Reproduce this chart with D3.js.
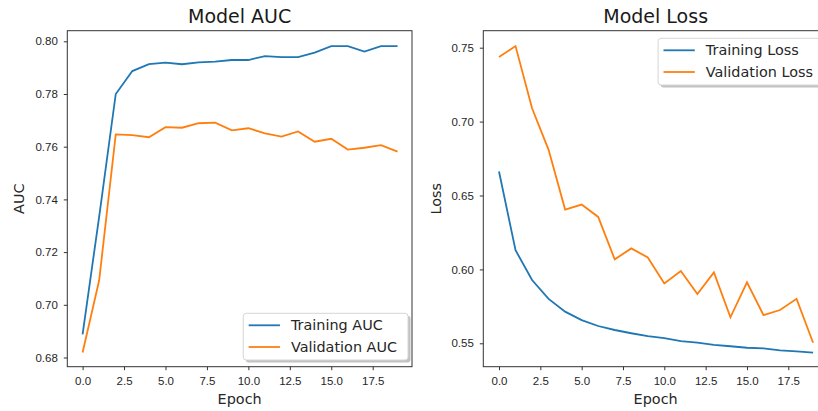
<!DOCTYPE html>
<html>
<head>
<meta charset="utf-8">
<script src="https://cdn.jsdelivr.net/npm/d3@7"></script>
<style>
  body { margin: 0; background: #fff; }
  svg { display: block; font-family: "DejaVu Sans", sans-serif; }
  .tick text { fill: #262626; font-size: 11.5px; }
  .tick line { stroke: #333; }
</style>
</head>
<body>
<svg id="chart" width="818" height="411"></svg>
<script>
var epochs = d3.range(20);

var trainAuc = [0.6888, 0.7335, 0.7800, 0.7887, 0.7913, 0.7919, 0.7913, 0.7920, 0.7923, 0.7929,
                0.7929, 0.7944, 0.7940, 0.7940, 0.7957, 0.7982, 0.7982, 0.7961, 0.7982, 0.7982];
var valAuc = [0.6819, 0.7093, 0.7647, 0.7644, 0.7636, 0.7674, 0.7672, 0.7689, 0.7691, 0.7662,
              0.7670, 0.7651, 0.7638, 0.7658, 0.7619, 0.7630, 0.7589, 0.7596, 0.7606, 0.7581];

var trainLoss = [0.6662, 0.6130, 0.5928, 0.5800, 0.5714, 0.5657, 0.5617, 0.5590, 0.5568, 0.5548,
                 0.5535, 0.5515, 0.5505, 0.5490, 0.5480, 0.5470, 0.5465, 0.5452, 0.5445, 0.5437];
var valLoss = [0.7437, 0.7511, 0.7090, 0.6809, 0.6405, 0.6439, 0.6355, 0.6068, 0.6142, 0.6081,
               0.5905, 0.5989, 0.5833, 0.5980, 0.5676, 0.5912, 0.5691, 0.5725, 0.5801, 0.5504];

var xTicks = [0, 2.5, 5, 7.5, 10, 12.5, 15, 17.5];
var aucTicks = [0.68, 0.70, 0.72, 0.74, 0.76, 0.78, 0.80];
var lossTicks = [0.55, 0.60, 0.65, 0.70, 0.75];

var blue = "#1f77b4";
var orange = "#ff7f0e";

var svg = d3.select("#chart");

function panel (opt) {
  var g = svg.append("g");
  var f = opt.frame;

  var x = d3.scaleLinear().domain([0, 17.5]).range(opt.xr);
  var y = d3.scaleLinear().domain(opt.yd).range(opt.yr);

  g.append("rect")
    .attr("x", f.x0).attr("y", f.y0)
    .attr("width", f.x1 - f.x0).attr("height", f.y1 - f.y0)
    .attr("fill", "none").attr("stroke", "#333").attr("stroke-width", 1);

  var xa = g.append("g")
    .attr("transform", "translate(0," + f.y1 + ")")
    .call(d3.axisBottom(x).tickValues(xTicks).tickSize(3.5).tickPadding(4).tickFormat(d3.format(".1f")));
  xa.select(".domain").remove();
  xa.selectAll("text").attr("dy", "0.9em");

  var ya = g.append("g")
    .attr("transform", "translate(" + f.x0 + ",0)")
    .call(d3.axisLeft(y).tickValues(opt.yTicks).tickSize(3.5).tickPadding(6).tickFormat(d3.format(".2f")));
  ya.select(".domain").remove();

  var line = d3.line().x(function (d, i) { return x(epochs[i]); }).y(function (d) { return y(d); });

  g.append("path").datum(opt.train).attr("d", line)
    .attr("fill", "none").attr("stroke", blue).attr("stroke-width", 1.8);
  g.append("path").datum(opt.val).attr("d", line)
    .attr("fill", "none").attr("stroke", orange).attr("stroke-width", 1.8);

  var cx = (f.x0 + f.x1) / 2;
  g.append("text").attr("x", cx).attr("y", 23)
    .attr("text-anchor", "middle").attr("font-size", 19).attr("fill", "#1a1a1a")
    .text(opt.title);
  g.append("text").attr("x", cx).attr("y", 404)
    .attr("text-anchor", "middle").attr("font-size", 14.4).attr("fill", "#262626")
    .text("Epoch");
  g.append("text")
    .attr("transform", "translate(" + opt.ylabelX + "," + ((f.y0 + f.y1) / 2) + ") rotate(-90)")
    .attr("text-anchor", "middle").attr("font-size", 14.4).attr("fill", "#262626")
    .text(opt.ylabel);

  // legend
  var names = opt.names;
  var lg = g.append("g");
  var tmp = lg.append("text").attr("font-size", 14.4).text(names[1]);
  var tw = tmp.node().getComputedTextLength();
  tmp.remove();
  var w = 47.7 + tw + 11;
  var h = 46.7;
  var lx = f.x1 - 4 - w;
  var ly = opt.legendTop ? f.y0 + 7.6 : f.y1 - 6.7 - h;

  lg.append("rect")
    .attr("x", lx + 2.5).attr("y", ly + 2.5).attr("width", w).attr("height", h)
    .attr("rx", 3).attr("fill", "#999").attr("opacity", 0.6);
  lg.append("rect")
    .attr("x", lx).attr("y", ly).attr("width", w).attr("height", h)
    .attr("rx", 3).attr("fill", "#fff").attr("stroke", "#d6d6d6").attr("stroke-width", 1);

  [blue, orange].forEach(function (c, i) {
    var ry = ly + 12 + i * 21.7;
    lg.append("line")
      .attr("x1", lx + 5.4).attr("x2", lx + 36.7).attr("y1", ry).attr("y2", ry)
      .attr("stroke", c).attr("stroke-width", 1.8);
    lg.append("text")
      .attr("x", lx + 47.7).attr("y", ry + 5)
      .attr("font-size", 14.4).attr("fill", "#262626")
      .text(names[i]);
  });
}

panel({
  frame: { x0: 67.3, x1: 412, y0: 30.7, y1: 366.7 },
  xr: [82.6, 372.7],
  yd: [0.68, 0.80], yr: [357.5, 41.3],
  yTicks: aucTicks,
  train: trainAuc, val: valAuc,
  title: "Model AUC", ylabel: "AUC", ylabelX: 23.5,
  names: ["Training AUC", "Validation AUC"],
  legendTop: false
});

panel({
  frame: { x0: 483.3, x1: 828, y0: 30.7, y1: 366.7 },
  xr: [499, 788.3],
  yd: [0.55, 0.75], yr: [343.3, 47.7],
  yTicks: lossTicks,
  train: trainLoss, val: valLoss,
  title: "Model Loss", ylabel: "Loss", ylabelX: 440.5,
  names: ["Training Loss", "Validation Loss"],
  legendTop: true
});
</script>
</body>
</html>
